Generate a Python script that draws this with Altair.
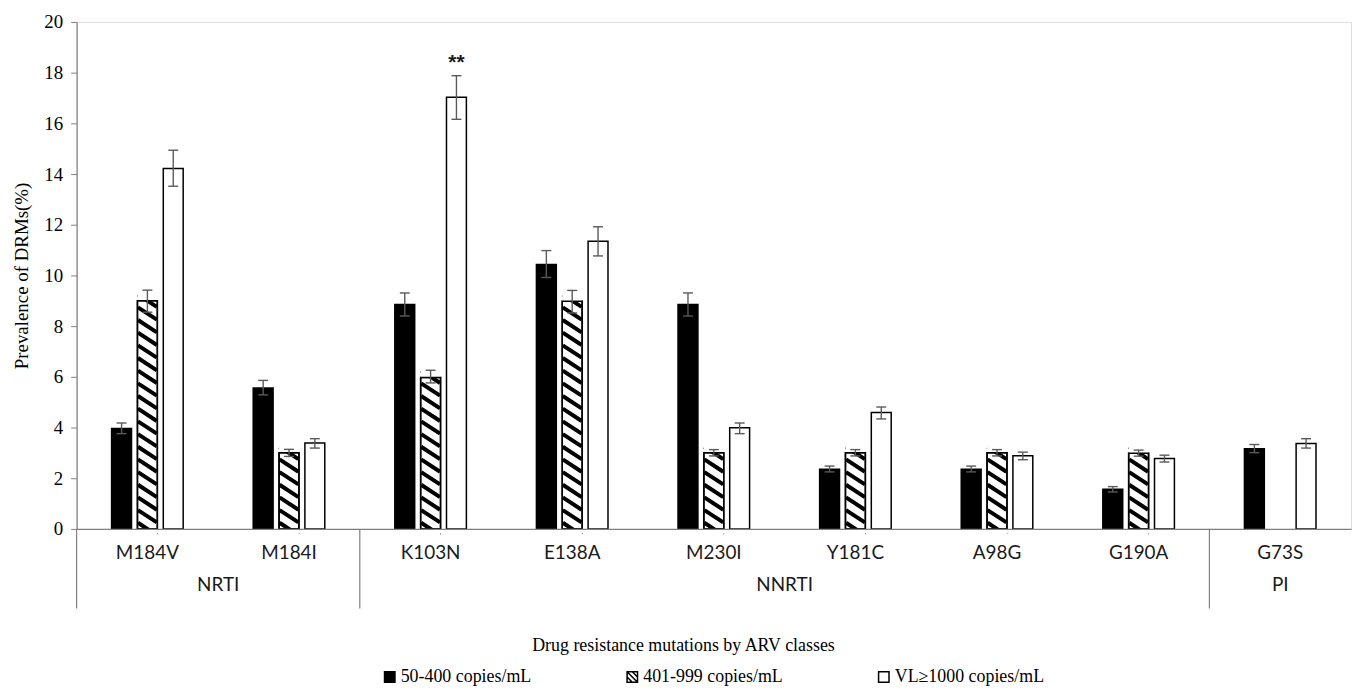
import altair as alt
import pandas as pd

# ---------------- data ----------------
mutations = ["M184V", "M184I", "K103N", "E138A", "M230I", "Y181C", "A98G", "G190A", "G73S"]
drug_class = ["NRTI", "NRTI", "NNRTI", "NNRTI", "NNRTI", "NNRTI", "NNRTI", "NNRTI", "PI"]
series = ["50-400 copies/mL", "401-999 copies/mL", "VL\u22651000 copies/mL"]

low_val = [3.96, 5.56, 8.85, 10.43, 8.85, 2.35, 2.35, 1.57, 3.16]
low_lo = [3.76, 5.29, 8.40, 9.92, 8.40, 2.25, 2.25, 1.46, 3.01]
low_hi = [4.18, 5.86, 9.31, 10.98, 9.31, 2.48, 2.48, 1.67, 3.33]

mid_val = [9.00, 3.01, 5.97, 8.98, 3.01, 3.01, 3.01, 2.99, None]
mid_lo = [8.55, 2.86, 5.76, 8.52, 2.88, 2.88, 2.88, 2.87, None]
mid_hi = [9.42, 3.14, 6.26, 9.41, 3.13, 3.13, 3.13, 3.11, None]

high_val = [14.22, 3.39, 17.03, 11.35, 3.99, 4.59, 2.89, 2.78, 3.37]
high_lo = [13.52, 3.19, 16.16, 10.77, 3.76, 4.34, 2.73, 2.64, 3.19]
high_hi = [14.94, 3.56, 17.88, 11.92, 4.18, 4.81, 3.03, 2.91, 3.56]

sig_mutation = ["K103N"]
sig_series = ["VL\u22651000 copies/mL"]
sig_label = ["**"]

group_names = ["NRTI", "NNRTI", "PI"]
group_anchor = ["M184V", "M230I", "G73S"]      # category whose band edge/centre carries the label
group_start = ["M184V", "K103N", "G73S"]       # first category of each class (separator line)

# ---------------- table ----------------
rows = []
for s, vals, los, his in [(series[0], low_val, low_lo, low_hi),
                          (series[1], mid_val, mid_lo, mid_hi),
                          (series[2], high_val, high_lo, high_hi)]:
    for m, c, v, lo, hi in zip(mutations, drug_class, vals, los, his):
        if v is None:
            continue
        rows.append({"mutation": m, "cls": c, "series": s, "value": v, "lo": lo, "hi": hi})
df = pd.DataFrame(rows)

sig_df = pd.DataFrame({"mutation": sig_mutation, "series": sig_series, "label": sig_label})
sig_df = sig_df.merge(df[["mutation", "series", "hi"]], on=["mutation", "series"])

grp_df = pd.DataFrame({"group": group_names, "anchor": group_anchor, "start": group_start})

# ---------------- layout ----------------
W, H = 1282, 510
step = W / len(mutations)
half_group = 36

serif = "Liberation Serif"
sans = "Lato"

xscale = alt.Scale(domain=mutations, paddingInner=0, paddingOuter=0)
xoff = alt.XOffset("series:N", sort=series,
                   scale=alt.Scale(domain=series, range=[step / 2 - half_group, step / 2 + half_group],
                                   paddingInner=0.23, paddingOuter=0))
yscale = alt.Scale(domain=[0, 20], nice=False)
fill_scale = alt.Scale(domain=series, range=["black", "white", "white"])

hatch_symbol = "M-1,-1H1V1H-1Z M-1,0L0,1 M-1,-1L1,1 M0,-1L1,0"

X = alt.X("mutation:N", sort=mutations, scale=xscale,
          axis=alt.Axis(title="Drug resistance mutations by ARV classes", labelAngle=0,
                        labelFont=sans, labelFontSize=19, labelColor="#1a1a1a",
                        labelPadding=15, ticks=False, domainColor="#7f7f7f", domainWidth=1.2,
                        titleFont=serif, titleFontSize=18, titleFontWeight="normal",
                        titleColor="black", titleX=610, titleY=117, titleAlign="center",
                        titleBaseline="middle", zindex=1))
Y = alt.Y("value:Q", scale=yscale,
          axis=alt.Axis(title="Prevalence of DRMs(%)", values=list(range(0, 21, 2)),
                        grid=False, labelFont=serif, labelFontSize=19, labelColor="black",
                        tickSize=6, tickColor="#7f7f7f", domainColor="#7f7f7f", domainWidth=1.2,
                        labelPadding=8, titleFont=serif, titleFontSize=19,
                        titleFontWeight="normal", titleColor="black", titlePadding=12, zindex=1))
xs = alt.X("mutation:N", sort=mutations, scale=xscale)

leg = dict(title=None, orient="none", direction="horizontal", legendX=306, legendY=650,
           labelFont=serif, labelFontSize=18, labelColor="black",
           symbolSize=110, symbolStrokeWidth=1.5, labelOffset=2, columnPadding=92)

base = alt.Chart(df)

# drawn first and hidden under the bars: it only supplies the legend
legend_pts = base.transform_calculate(mid="datum.value / 2").mark_point(
    filled=True, size=110, strokeWidth=1.5, opacity=1).encode(
    x=X, xOffset=xoff, y=alt.Y("mid:Q", scale=yscale),
    fill=alt.Fill("series:N", sort=series, scale=fill_scale, legend=alt.Legend(**leg)),
    stroke=alt.Stroke("series:N", sort=series,
                      scale=alt.Scale(domain=series, range=["black", "black", "black"]),
                      legend=alt.Legend(**leg)),
    shape=alt.Shape("series:N", sort=series,
                    scale=alt.Scale(domain=series, range=["square", hatch_symbol, "square"]),
                    legend=alt.Legend(**leg)),
)

bars = base.mark_bar(stroke="black", strokeWidth=1.5).encode(
    x=xs, xOffset=xoff, y=Y,
    fill=alt.Fill("series:N", sort=series, scale=fill_scale, legend=None),
)

hatched = base.transform_filter(alt.datum.series == series[1])

stripes = hatched.transform_calculate(
    seq="sequence(0, datum.value + 0.32, 0.5)"
).transform_flatten(["seq"]).mark_point(
    shape="M-0.95,-0.62L0.95,0.62", size=400, filled=False, stroke="black",
    strokeWidth=4, opacity=1, strokeCap="butt"
).encode(x=xs, xOffset=xoff, y=alt.Y("seq:Q", scale=yscale))

cover_top = hatched.transform_calculate(top="datum.value + 0.7").mark_bar(
    fill="white", strokeWidth=0).encode(
    x=xs, xOffset=xoff, y=alt.Y("value:Q", scale=yscale), y2="top:Q")

cover_bot = hatched.transform_calculate(b0="-0.4", b1="0").mark_bar(
    fill="white", strokeWidth=0).encode(
    x=xs, xOffset=xoff, y=alt.Y("b0:Q", scale=yscale), y2="b1:Q")

outline = hatched.mark_bar(fill="white", fillOpacity=0, stroke="black", strokeWidth=1.5).encode(
    x=xs, xOffset=xoff, y=alt.Y("value:Q", scale=yscale))

err_line = base.mark_rule(color="#5a5a5a", strokeWidth=1.4).encode(
    x=xs, xOffset=xoff, y=alt.Y("lo:Q", scale=yscale), y2="hi:Q")

err_caps = base.transform_fold(["lo", "hi"], as_=["end", "v"]).mark_tick(
    orient="horizontal", size=10, thickness=1.4, color="#5a5a5a", opacity=1).encode(
    x=xs, xOffset=xoff, y=alt.Y("v:Q", scale=yscale))

sig = alt.Chart(sig_df).mark_text(font="Liberation Sans", fontSize=21, fontWeight="bold", dy=-13,
                                  baseline="middle", color="#1a1a1a").encode(
    x=xs, xOffset=xoff, y=alt.Y("hi:Q", scale=yscale), text="label:N")

seps = alt.Chart(grp_df).mark_rule(color="#7f7f7f", strokeWidth=1.2).encode(
    x=alt.X("start:N", sort=mutations, scale=xscale, bandPosition=0),
    y=alt.value(H), y2=alt.value(H + 80))

grp_lbl_edge = alt.Chart(grp_df).transform_filter(alt.datum.group != "PI").mark_text(
    font=sans, fontSize=19, color="#1a1a1a", baseline="middle").encode(
    x=alt.X("anchor:N", sort=mutations, scale=xscale, bandPosition=1),
    y=alt.value(H + 56), text="group:N")

grp_lbl_mid = alt.Chart(grp_df).transform_filter(alt.datum.group == "PI").mark_text(
    font=sans, fontSize=19, color="#1a1a1a", baseline="middle").encode(
    x=alt.X("anchor:N", sort=mutations, scale=xscale, bandPosition=0.5),
    y=alt.value(H + 56), text="group:N")

chart = alt.layer(
    legend_pts, bars, stripes, cover_top, cover_bot, outline, err_line, err_caps, sig,
    seps, grp_lbl_edge, grp_lbl_mid
).properties(
    width=W, height=H,
    autosize=alt.AutoSizeParams(type="none"),
    padding={"left": 69, "top": 12, "right": 4, "bottom": 163},
).configure_view(stroke=None).configure(background="white")

chart.save("out.html", embed_options={"renderer": "svg", "actions": False})
